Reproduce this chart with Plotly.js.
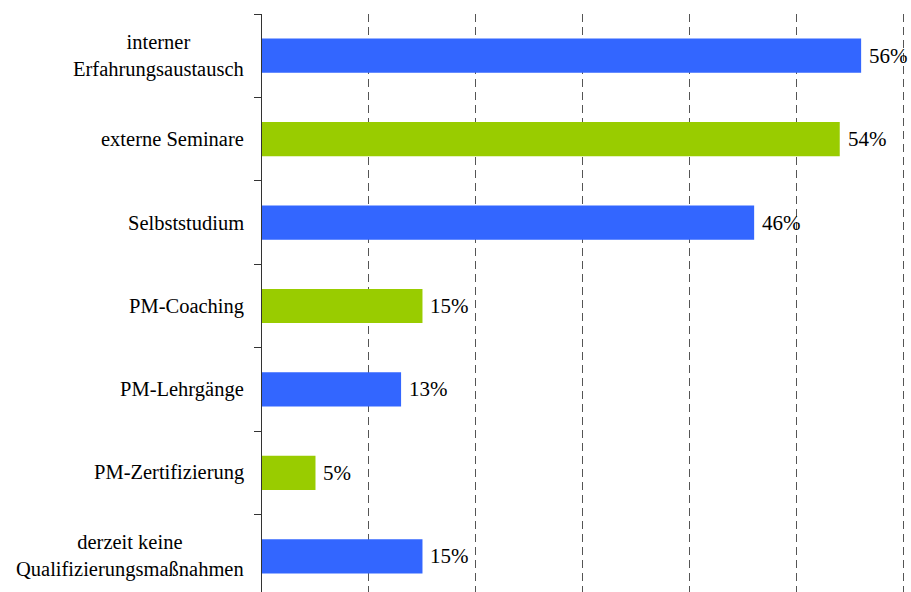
<!DOCTYPE html>
<html>
<head>
<meta charset="utf-8">
<script src="https://cdn.plot.ly/plotly-3.0.1.min.js"></script>
<style>
html,body{margin:0;padding:0;overflow:hidden;background:#fff;}
#chart{width:911px;height:598px;}
</style>
</head>
<body>
<div id="chart"></div>
<script>
var categories = [
  "interner<br>Erfahrungsaustausch",
  "externe Seminare",
  "Selbststudium",
  "PM-Coaching",
  "PM-Lehrgänge",
  "PM-Zertifizierung",
  "derzeit keine<br>Qualifizierungsmaßnahmen"
];
var values = [56, 54, 46, 15, 13, 5, 15];
var valueLabels = ["56%", "54%", "46%", "15%", "13%", "5%", "15%"];
var barColors = ["#3366FF", "#99CC00", "#3366FF", "#99CC00", "#3366FF", "#99CC00", "#3366FF"];
var gridTicks = [10, 20, 30, 40, 50, 60];

var FONT = "'Liberation Serif', 'Times New Roman', serif";

var trace = {
  type: "bar",
  orientation: "h",
  x: values,
  y: categories,
  marker: {color: barColors},
  width: 0.41,
  hoverinfo: "none"
};

var annotations = [];
categories.forEach(function(c, i){
  annotations.push({
    xref: "paper", yref: "y", x: 0, y: c,
    xanchor: "right", yanchor: "middle", xshift: -16,
    align: "center", showarrow: false, text: c,
    font: {family: FONT, size: 20.5, color: "#000"}
  });
  annotations.push({
    xref: "x", yref: "y", x: values[i], y: c,
    xanchor: "left", yanchor: "middle", xshift: 6,
    showarrow: false, text: valueLabels[i],
    font: {family: FONT, size: 21, color: "#000"}
  });
});

var layout = {
  width: 911, height: 598,
  margin: {l: 262, r: 6, t: 14, b: 0, pad: 0},
  paper_bgcolor: "#fff", plot_bgcolor: "#fff",
  showlegend: false,
  font: {family: FONT, size: 21, color: "#000"},
  xaxis: {
    range: [0, 60.1],
    tickvals: gridTicks,
    showticklabels: false,
    ticks: "",
    showgrid: true,
    gridcolor: "#555",
    gridwidth: 1,
    griddash: "8px,5px",
    zeroline: false,
    showline: false
  },
  yaxis: {
    type: "category",
    categoryorder: "array",
    categoryarray: categories,
    autorange: "reversed",
    showticklabels: false,
    ticks: "outside",
    tickson: "boundaries",
    ticklen: 7,
    tickcolor: "#333",
    tickwidth: 1,
    showline: true,
    linecolor: "#333",
    linewidth: 1,
    showgrid: false,
    zeroline: false
  },
  annotations: annotations
};

Plotly.newPlot("chart", [trace], layout, {displayModeBar: false, staticPlot: true});
</script>
</body>
</html>
